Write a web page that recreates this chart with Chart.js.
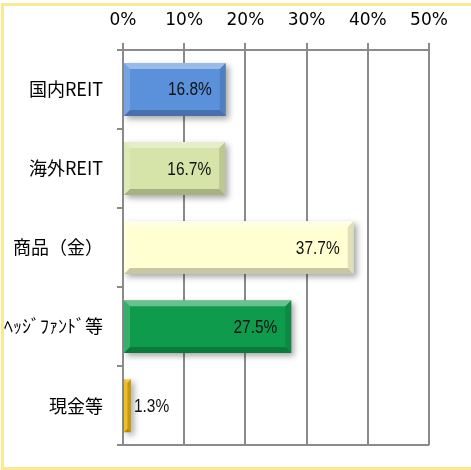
<!DOCTYPE html>
<html>
<head>
<meta charset="utf-8">
<script src="https://cdn.jsdelivr.net/npm/chart.js@4/dist/chart.umd.min.js"></script>
<style>
  html, body { margin: 0; padding: 0; background: #fff; }
  #wrap { position: relative; width: 471px; height: 470px; overflow: hidden; }
  #frame {
    position: absolute; left: 1px; top: 3px; right: -10px; bottom: 0;
    border: 3px solid #FBE894; border-right: none; pointer-events: none;
  }
  canvas { position: absolute; left: 0; top: 0; }
</style>
</head>
<body>
<div id="wrap">
  <canvas id="allocChart" width="471" height="470"></canvas>
  <div id="frame"></div>
</div>
<script>
const categories = ["国内REIT", "海外REIT", "商品（金）", "ﾍｯｼﾞﾌｧﾝﾄﾞ等", "現金等"];
const shares = [16.8, 16.7, 37.7, 27.5, 1.3];
const axisMin = 0;
const axisMax = 50;
const axisStep = 10;

const barColors = ["#5A91DA", "#D7E4A9", "#FFFFD2", "#0E9C4C", "#E8B000"];
const gridGray = "#8a8a8a";

// soft drop shadow under the bars
const barShadow = {
    id: "barShadow",
    beforeDatasetDraw(chart) {
        const ctx = chart.ctx;
        ctx.save();
        ctx.shadowColor = "rgba(0,0,0,0.35)";
        ctx.shadowBlur = 6;
        ctx.shadowOffsetX = 3;
        ctx.shadowOffsetY = 3;
    },
    afterDatasetDraw(chart) {
        chart.ctx.restore();
    }
};

// bevelled edges + value labels
const bevelAndLabels = {
    id: "bevelAndLabels",
    afterDatasetsDraw(chart) {
        const ctx = chart.ctx;
        const meta = chart.getDatasetMeta(0);

        meta.data.forEach((bar, i) => {
            const l = Math.min(bar.base, bar.x);
            const r = Math.max(bar.base, bar.x);
            const t = bar.y - bar.height / 2;
            const b = bar.y + bar.height / 2;
            const d = Math.min(6, (r - l) / 2, (b - t) / 2);

            const poly = (pts, fill) => {
                ctx.beginPath();
                ctx.moveTo(pts[0][0], pts[0][1]);
                pts.slice(1).forEach(p => ctx.lineTo(p[0], p[1]));
                ctx.closePath();
                ctx.fillStyle = fill;
                ctx.fill();
            };

            ctx.save();
            poly([[l, t], [r, t], [r - d, t + d], [l + d, t + d]], "rgba(255,255,255,0.38)");
            poly([[l, t], [l + d, t + d], [l + d, b - d], [l, b]], "rgba(255,255,255,0.18)");
            poly([[l, b], [l + d, b - d], [r - d, b - d], [r, b]], "rgba(0,0,0,0.22)");
            poly([[r, t], [r, b], [r - d, b - d], [r - d, t + d]], "rgba(0,0,0,0.12)");
            ctx.restore();

            // value label, squeezed to look like a narrow face
            const v = shares[i];
            const txt = v.toFixed(1) + "%";
            const outside = v < 5;
            ctx.save();
            ctx.font = '18px "Liberation Sans Narrow", "Arial Narrow", "Liberation Sans", sans-serif';
            ctx.fillStyle = "#111";
            ctx.textBaseline = "middle";
            ctx.translate(outside ? bar.x + 3 : bar.x - 14, bar.y + 1);
            ctx.scale(0.86, 1);
            ctx.textAlign = outside ? "left" : "right";
            ctx.fillText(txt, 0, 0);
            ctx.restore();
        });
    }
};

new Chart(document.getElementById("allocChart"), {

    type: "bar",

    data: {
        labels: categories,
        datasets: [{
            data: shares,
            backgroundColor: barColors,
            borderWidth: 0,
            barPercentage: 0.67,
            categoryPercentage: 1
        }]
    },

    options: {
        indexAxis: "y",
        responsive: false,
        animation: false,
        devicePixelRatio: 1,
        layout: {
            padding: { left: 0, top: 0, right: 42, bottom: 17 }
        },
        plugins: {
            legend: { display: false },
            tooltip: { enabled: false }
        },
        scales: {
            x: {
                position: "top",
                min: axisMin,
                max: axisMax,
                afterFit: s => { s.height = 50; },
                ticks: {
                    stepSize: axisStep,
                    padding: 12,
                    color: "#000",
                    font: { family: "DejaVu Sans", size: 17 },
                    callback: v => v + "%"
                },
                grid: {
                    color: gridGray,
                    lineWidth: 2,
                    tickLength: 7,
                    tickColor: gridGray
                },
                border: { display: true, color: gridGray, width: 2 }
            },
            y: {
                afterFit: s => { s.width = 123; },
                ticks: {
                    padding: 14,
                    color: "#000",
                    font: { family: "Noto Sans CJK JP", size: 18 }
                },
                grid: {
                    offset: true,
                    color: c => (c.type === "scale" ? gridGray : "rgba(0,0,0,0)"),
                    lineWidth: 2,
                    tickLength: 6,
                    tickColor: gridGray
                },
                border: { display: true, color: gridGray, width: 2 }
            }
        }
    },

    plugins: [barShadow, bevelAndLabels]

});
</script>
</body>
</html>
